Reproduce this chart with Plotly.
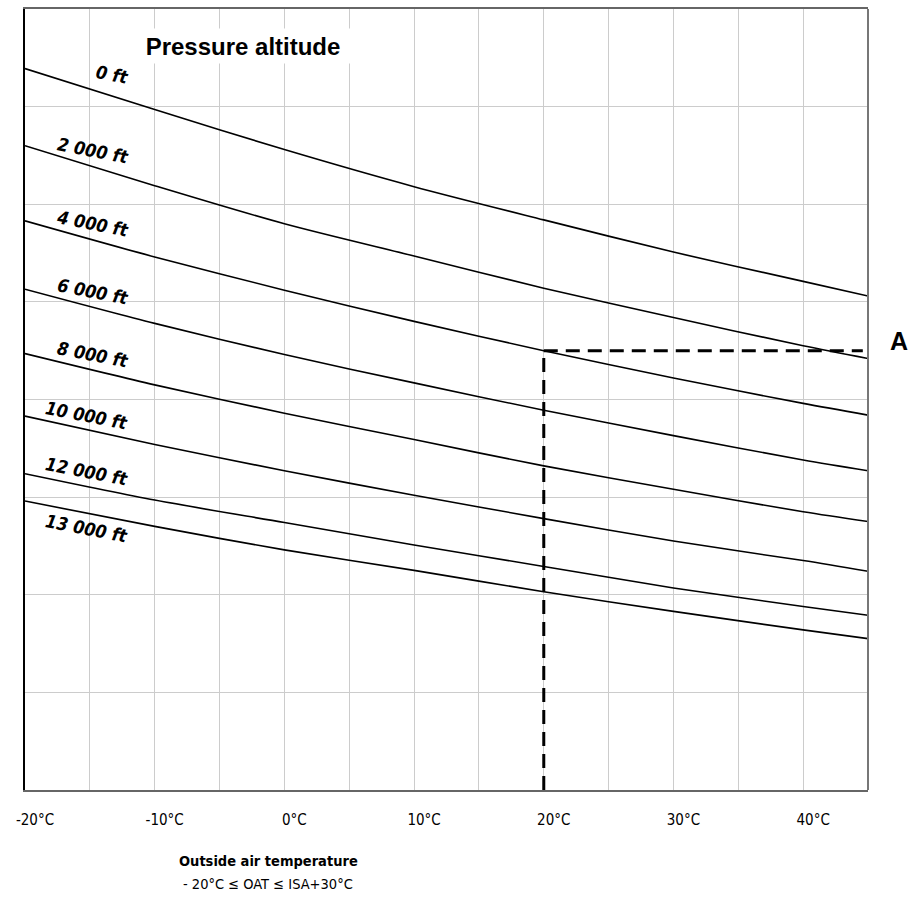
import numpy as np
import plotly.graph_objects as go

# ---- data ----
oat_c = [-20, -10, 0, 10, 20, 30, 40, 45]
altitude_labels = ["0 ft", "2 000 ft", "4 000 ft", "6 000 ft", "8 000 ft",
                   "10 000 ft", "12 000 ft", "13 000 ft"]
curve_0 = [7.39, 6.97, 6.56, 6.18, 5.84, 5.51, 5.21, 5.06]
curve_2000 = [6.60, 6.19, 5.80, 5.47, 5.14, 4.84, 4.55, 4.42]
curve_4000 = [5.83, 5.46, 5.12, 4.80, 4.50, 4.22, 3.96, 3.84]
curve_6000 = [5.13, 4.78, 4.46, 4.17, 3.89, 3.63, 3.38, 3.27]
curve_8000 = [4.47, 4.15, 3.86, 3.59, 3.32, 3.08, 2.85, 2.75]
curve_10000 = [3.83, 3.54, 3.27, 3.02, 2.78, 2.55, 2.35, 2.24]
curve_12000 = [3.24, 2.97, 2.74, 2.51, 2.29, 2.07, 1.88, 1.79]
curve_13000 = [2.96, 2.70, 2.46, 2.25, 2.03, 1.83, 1.64, 1.55]
curves = [curve_0, curve_2000, curve_4000, curve_6000, curve_8000,
          curve_10000, curve_12000, curve_13000]

tick_values = [-20, -10, 0, 10, 20, 30, 40]
tick_labels = ["-20°C", "-10°C", "0°C", "10°C", "20°C", "30°C", "40°C"]

example_oat = 20          # worked example: OAT 20°C
example_curve_index = 2   # 4 000 ft
x_min, x_max = -20, 45
y_min, y_max = 0, 8

COND = "DejaVu Sans Condensed, Liberation Sans Narrow, Arial Narrow, sans-serif"
ARIAL = "Liberation Sans, Arial, sans-serif"

fig = go.Figure()

for name, vals in zip(altitude_labels, curves):
    fig.add_trace(go.Scatter(
        x=oat_c, y=vals, mode="lines", name=name,
        line=dict(color="black", width=1.6, shape="spline", smoothing=0.8),
        hoverinfo="skip", showlegend=False))

# example dashed construction
ex_val = float(np.interp(example_oat, oat_c, curves[example_curve_index]))
dash_style = dict(color="black", width=3, dash="14px,8px")
fig.add_trace(go.Scatter(x=[example_oat, example_oat], y=[y_min, ex_val],
                         mode="lines", line=dash_style, showlegend=False, hoverinfo="skip"))
fig.add_trace(go.Scatter(x=[example_oat, x_max - 0.4], y=[ex_val, ex_val],
                         mode="lines", line=dash_style, showlegend=False, hoverinfo="skip"))

annotations = []
# Pressure altitude header with white box (drawn first so labels sit above it)
annotations.append(dict(
    x=(243 - 25) / 843, y=1, xref="paper", yref="paper",
    xanchor="center", yanchor="middle",
    yshift=-37, text="<b>Pressure altitude</b>", showarrow=False,
    bgcolor="white", width=290, height=34, borderpad=0,
    font=dict(family=ARIAL, size=24, color="black")))

# curve labels
label_x = -15.0
for i, (name, vals) in enumerate(zip(altitude_labels, curves)):
    yv = float(np.interp(label_x, oat_c, vals))
    below = (i == len(curves) - 1)
    annotations.append(dict(
        x=-11.7, y=yv, xref="x", yref="y", text=name, showarrow=False,
        xanchor="right", yanchor="middle", yshift=-15 if below else 15,
        textangle=11,
        font=dict(family=COND, size=18, color="black", weight="bold", style="italic")))

# A marker
annotations.append(dict(
    x=1, xref="paper", xshift=31, y=ex_val, yref="y", yshift=10,
    text="<b>A</b>", showarrow=False, xanchor="center",
    font=dict(family=ARIAL, size=25, color="black")))

# x title and subtitle
annotations.append(dict(
    x=(268 - 25) / 843, y=0, xref="paper", yref="paper",
    xanchor="center", yanchor="middle",
    yshift=-71, text="<b>Outside air temperature</b>", showarrow=False,
    font=dict(family=COND, size=14.5, color="black")))
annotations.append(dict(
    x=(268 - 25) / 843, y=0, xref="paper", yref="paper",
    xanchor="center", yanchor="middle",
    yshift=-94, text="- 20°C ≤ OAT ≤ ISA+30°C", showarrow=False,
    font=dict(family=COND, size=14.5, color="black")))

fig.update_layout(
    width=914, height=898,
    margin=dict(l=25, r=46, t=7, b=108),
    paper_bgcolor="white", plot_bgcolor="white",
    annotations=annotations,
    shapes=[dict(type="line", xref="paper", yref="paper", x0=1, x1=1, y0=0, y1=1,
                 line=dict(color="#777777", width=2), layer="above")],
)
fig.update_xaxes(
    range=[x_min, x_max], showgrid=True,
    gridcolor="#cccccc", gridwidth=1, zeroline=False,
    showline=True, linecolor="#666666", linewidth=2, mirror=True,
    tickmode="array", tickvals=tick_values, ticktext=tick_labels,
    ticks="", ticklabelstandoff=15, ticklabelshift=10,
    tickfont=dict(family=COND, size=15, color="black"))
fig.update_xaxes(minor=dict(tick0=-20, dtick=5, showgrid=True, gridcolor="#cccccc", gridwidth=1))
fig.update_yaxes(
    range=[y_min, y_max], dtick=1, showgrid=True, gridcolor="#cccccc", gridwidth=1,
    zeroline=False, showticklabels=False, ticks="",
    showline=True, linecolor="black", linewidth=1.5, mirror=False)

fig.write_html("out.html", config={"displayModeBar": False},
               post_script="document.body.style.margin='0';")
